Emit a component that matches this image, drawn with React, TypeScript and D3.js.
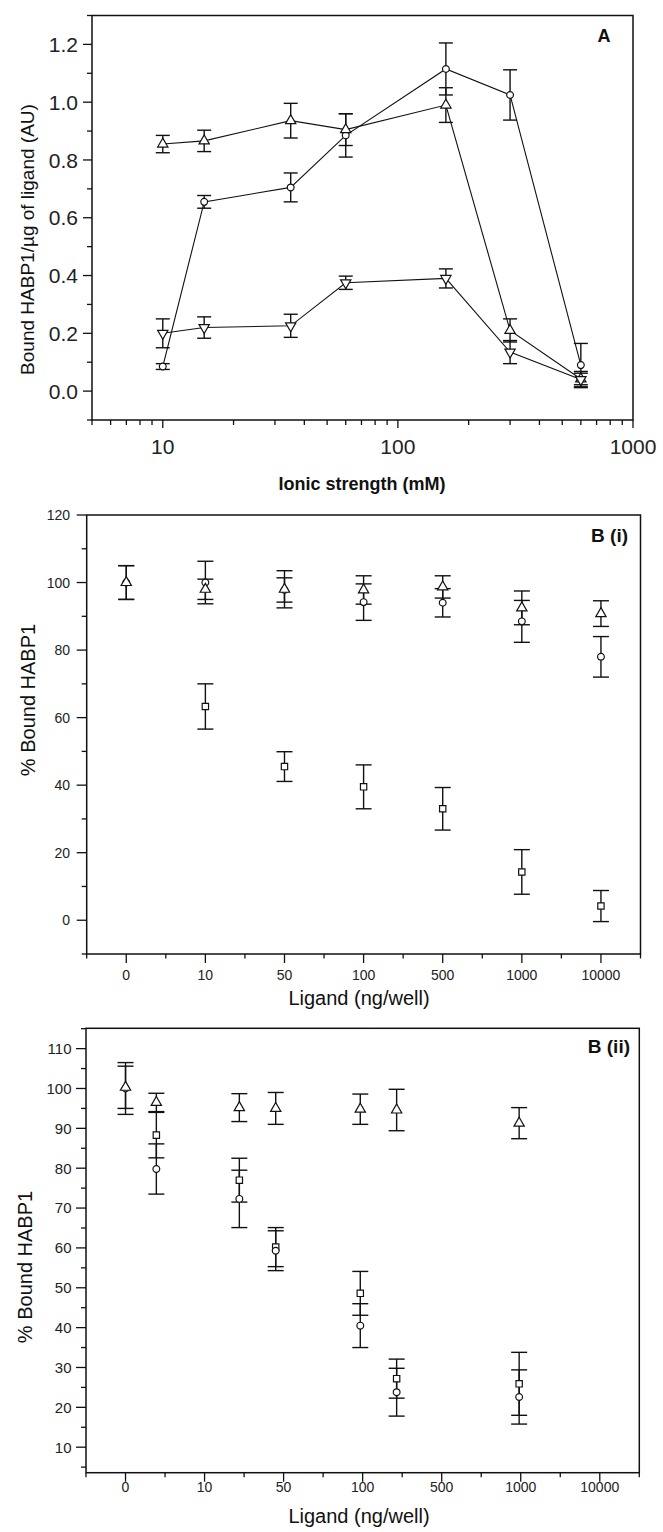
import React, { useEffect, useRef } from "react";
import * as d3 from "d3";

// ---- Panel A: ionic strength (mM), bound HABP1 / ug ligand (AU)
const ionicStrength = [10, 15, 35, 60, 160, 300, 600];
const aTriUp = [0.855, 0.866, 0.936, 0.905, 0.99, 0.21, 0.042];
const aTriUpErr = [0.03, 0.037, 0.06, 0.055, 0.06, 0.04, 0.02];
const aCircle = [0.085, 0.655, 0.705, 0.885, 1.115, 1.025, 0.09];
const aCircleErr = [0.01, 0.022, 0.05, 0.075, 0.09, 0.087, 0.075];
const aTriDown = [0.2, 0.22, 0.226, 0.375, 0.39, 0.135, 0.04];
const aTriDownErr = [0.05, 0.037, 0.04, 0.023, 0.033, 0.04, 0.028];
const aYTicks = [0, 0.2, 0.4, 0.6, 0.8, 1.0, 1.2];
const aXTicks = [10, 100, 1000];

// ---- Panel B: ligand (ng/well), % bound HABP1
const ligandLabels = ["0", "10", "50", "100", "500", "1000", "10000"];

// B (i)
const biPos = [0, 1, 2, 3, 4, 5, 6];
const biTriangle = [100, 98, 98, 97.8, 98.7, 92.5, 90.8];
const biTriangleErr = [5, 3, 5.5, 4.2, 3.3, 5, 3.8];
const biCircle = [100, 100, 97.8, 94.2, 94, 88.5, 78];
const biCircleErr = [5, 6.3, 3.6, 5.4, 4.2, 6.2, 6];
const biSquarePos = [1, 2, 3, 4, 5, 6];
const biSquare = [63.3, 45.5, 39.5, 33, 14.3, 4.2];
const biSquareErr = [6.7, 4.4, 6.5, 6.3, 6.6, 4.6];
const biYTicks = [0, 20, 40, 60, 80, 100, 120];

// B (ii)
const biiPos = [0, 0.39, 1.44, 1.9, 2.97, 3.43, 4.98];
const biiTriangle = [100.3, 96.5, 95.2, 95, 94.8, 94.6, 91.3];
const biiTriangleErr = [5.3, 2.3, 3.5, 4, 3.8, 5.2, 3.9];
const biiCircle = [100, 79.8, 72.3, 59.3, 40.5, 23.8, 22.6];
const biiCircleErr = [6.5, 6.3, 7.2, 5, 5.5, 6, 6.8];
const biiSquarePos = [0.39, 1.44, 1.9, 2.97, 3.43, 4.98];
const biiSquare = [88.3, 77, 60.2, 48.6, 27.2, 25.9];
const biiSquareErr = [5.7, 5.5, 4.9, 5.5, 4.9, 7.9];
const biiYTicks = [10, 20, 30, 40, 50, 60, 70, 80, 90, 100, 110];

const W = 663;
const H = 1532;
const FONT = "'Liberation Sans', Arial, Helvetica, sans-serif";
const INK = "#111";

const symbolPath = (kind, size) => {
  const type =
    kind === "circle" ? d3.symbolCircle : kind === "square" ? d3.symbolSquare : d3.symbolTriangle;
  return d3.symbol().type(type).size(size)();
};

function errorBars(g, xs, ys, es, x, y, cap) {
  const rows = xs.map((xv, i) => ({ x: x(xv), lo: y(ys[i] - es[i]), hi: y(ys[i] + es[i]) }));
  const eb = g.append("g").attr("stroke", INK).attr("stroke-width", 1.4).attr("fill", "none");
  rows.forEach((r) => {
    eb.append("line").attr("x1", r.x).attr("x2", r.x).attr("y1", r.lo).attr("y2", r.hi);
    eb.append("line").attr("x1", r.x - cap / 2).attr("x2", r.x + cap / 2).attr("y1", r.lo).attr("y2", r.lo);
    eb.append("line").attr("x1", r.x - cap / 2).attr("x2", r.x + cap / 2).attr("y1", r.hi).attr("y2", r.hi);
  });
}

function markers(g, xs, ys, x, y, kind) {
  const size = kind === "circle" ? 36 : kind === "square" ? 40 : 46;
  g.append("g")
    .selectAll("path")
    .data(xs.map((xv, i) => [xv, ys[i]]))
    .enter()
    .append("path")
    .attr("d", symbolPath(kind, size))
    .attr("transform", (d) => `translate(${x(d[0])},${y(d[1])})${kind === "down" ? " rotate(180)" : ""}`)
    .attr("fill", "#fff")
    .attr("stroke", INK)
    .attr("stroke-width", 1.2);
}

function frame(g, l, r, t, b) {
  g.append("rect")
    .attr("x", l)
    .attr("y", t)
    .attr("width", r - l)
    .attr("height", b - t)
    .attr("fill", "none")
    .attr("stroke", INK)
    .attr("stroke-width", 1.5);
}

function ticks(g, vals, scale, orient, base, len) {
  vals.forEach((v) => {
    const p = scale(v);
    if (orient === "left") {
      g.append("line").attr("x1", base - len).attr("x2", base).attr("y1", p).attr("y2", p);
    } else {
      g.append("line").attr("x1", p).attr("x2", p).attr("y1", base).attr("y2", base + len);
    }
  });
}

function drawPanelA(svg) {
  const L = 92, R = 633, T = 15.5, B = 420;
  const x = d3.scaleLog().domain([5, 1000]).range([L, R]);
  const y = d3.scaleLinear().domain([-0.1, 1.3]).range([B, T]);
  const g = svg.append("g");

  const tg = g.append("g").attr("stroke", INK).attr("stroke-width", 1.3);
  ticks(tg, aYTicks, y, "left", L, 9);
  ticks(tg, d3.range(-0.1, 1.31, 0.2), y, "left", L, 5);
  const minorX = [];
  [1, 10, 100].forEach((d) => d3.range(2, 10).forEach((k) => k * d >= 5 && minorX.push(k * d)));
  ticks(tg, aXTicks, x, "bottom", B, 8);
  ticks(tg, minorX, x, "bottom", B, 5);
  frame(g, L, R, T, B);

  g.selectAll("text.ya")
    .data(aYTicks)
    .enter()
    .append("text")
    .attr("x", 78)
    .attr("y", (d) => y(d))
    .attr("dy", "0.36em")
    .attr("text-anchor", "end")
    .attr("font-size", 21)
    .attr("font-family", FONT)
    .attr("fill", "#222")
    .text((d) => d3.format(".1f")(d));
  g.selectAll("text.xa")
    .data(aXTicks)
    .enter()
    .append("text")
    .attr("x", (d) => x(d))
    .attr("y", 454)
    .attr("text-anchor", "middle")
    .attr("font-size", 21)
    .attr("font-family", FONT)
    .attr("fill", "#222")
    .text((d) => d);

  const line = d3
    .line()
    .x((d) => x(d[0]))
    .y((d) => y(d[1]));
  [aTriUp, aCircle, aTriDown].forEach((s) => {
    g.append("path")
      .attr("d", line(ionicStrength.map((v, i) => [v, s[i]])))
      .attr("fill", "none")
      .attr("stroke", INK)
      .attr("stroke-width", 1.1);
  });
  errorBars(g, ionicStrength, aTriUp, aTriUpErr, x, y, 14);
  errorBars(g, ionicStrength, aCircle, aCircleErr, x, y, 14);
  errorBars(g, ionicStrength, aTriDown, aTriDownErr, x, y, 14);
  markers(g, ionicStrength, aCircle, x, y, "circle");
  markers(g, ionicStrength, aTriUp, x, y, "up");
  markers(g, ionicStrength, aTriDown, x, y, "down");

  g.append("text")
    .attr("transform", `translate(34,239.5) rotate(-90)`)
    .attr("text-anchor", "middle")
    .attr("font-size", 19)
    .attr("font-family", FONT)
    .attr("fill", INK)
    .text("Bound HABP1/\u00b5g of ligand (AU)");
  g.append("text")
    .attr("x", 362)
    .attr("y", 490)
    .attr("text-anchor", "middle")
    .attr("font-size", 18)
    .attr("font-weight", "bold")
    .attr("font-family", FONT)
    .attr("fill", INK)
    .text("Ionic strength (mM)");
  g.append("text")
    .attr("x", 604)
    .attr("y", 41.5)
    .attr("text-anchor", "middle")
    .attr("font-size", 18)
    .attr("font-weight", "bold")
    .attr("font-family", FONT)
    .attr("fill", INK)
    .text("A");
}

function drawPanelB(svg, p) {
  const { L, R, T, B } = p;
  const x = d3.scaleLinear().domain([-0.5, 6.5]).range([L, R]);
  const y = d3.scaleLinear().domain(p.yDomain).range([B, T]);
  const g = svg.append("g");

  const tg = g.append("g").attr("stroke", INK).attr("stroke-width", 1.3);
  ticks(tg, p.yTicks, y, "left", L, 10);
  ticks(tg, p.yMinor, y, "left", L, 5);
  ticks(tg, d3.range(0, 7), x, "bottom", B, 9);
  ticks(tg, d3.range(-0.5, 7, 1), x, "bottom", B, 4.5);
  frame(g, L, R, T, B);

  g.selectAll("text.yb")
    .data(p.yTicks)
    .enter()
    .append("text")
    .attr("x", p.yLabelX)
    .attr("y", (d) => y(d))
    .attr("dy", "0.36em")
    .attr("text-anchor", "end")
    .attr("font-size", p.tickFont)
    .attr("font-family", FONT)
    .attr("fill", "#222")
    .text((d) => d);
  g.selectAll("text.xb")
    .data(ligandLabels)
    .enter()
    .append("text")
    .attr("x", (d, i) => x(i))
    .attr("y", p.xLabelY)
    .attr("text-anchor", "middle")
    .attr("font-size", 14)
    .attr("font-family", FONT)
    .attr("fill", "#222")
    .text((d) => d);

  errorBars(g, p.triPos, p.tri, p.triErr, x, y, 16);
  errorBars(g, p.triPos, p.circ, p.circErr, x, y, 16);
  errorBars(g, p.sqPos, p.sq, p.sqErr, x, y, 16);
  markers(g, p.sqPos, p.sq, x, y, "square");
  markers(g, p.triPos, p.circ, x, y, "circle");
  markers(g, p.triPos, p.tri, x, y, "up");

  g.append("text")
    .attr("transform", `translate(${p.titleX},${p.titleY}) rotate(-90)`)
    .attr("text-anchor", "middle")
    .attr("font-size", 20)
    .attr("font-family", FONT)
    .attr("fill", INK)
    .text("% Bound HABP1");
  g.append("text")
    .attr("x", 359)
    .attr("y", p.xTitleY)
    .attr("text-anchor", "middle")
    .attr("font-size", 20)
    .attr("font-family", FONT)
    .attr("fill", INK)
    .text("Ligand (ng/well)");
  g.append("text")
    .attr("x", p.tagX)
    .attr("y", p.tagY)
    .attr("text-anchor", "end")
    .attr("font-size", 19)
    .attr("font-weight", "bold")
    .attr("font-family", FONT)
    .attr("fill", INK)
    .text(p.tag);
}

export default function App() {
  const svgRef = useRef(null);

  useEffect(() => {
    const svg = d3.select(svgRef.current);
    svg.selectAll("*").remove();
    svg.append("rect").attr("width", W).attr("height", H).attr("fill", "#fff");

    drawPanelA(svg);
    drawPanelB(svg, {
      L: 86.7, R: 640.5, T: 515, B: 954,
      yDomain: [-10, 120],
      yTicks: biYTicks,
      yMinor: d3.range(-10, 121, 20),
      yLabelX: 70, tickFont: 14, xLabelY: 980,
      triPos: biPos, tri: biTriangle, triErr: biTriangleErr,
      circ: biCircle, circErr: biCircleErr,
      sqPos: biSquarePos, sq: biSquare, sqErr: biSquareErr,
      titleX: 35, titleY: 700, xTitleY: 1005,
      tag: "B (i)", tagX: 628, tagY: 541.5,
    });
    drawPanelB(svg, {
      L: 86, R: 639.3, T: 1028.3, B: 1472.7,
      yDomain: [3.6, 115.1],
      yTicks: biiYTicks,
      yMinor: d3.range(5, 116, 10),
      yLabelX: 71.5, tickFont: 15, xLabelY: 1491.5,
      triPos: biiPos, tri: biiTriangle, triErr: biiTriangleErr,
      circ: biiCircle, circErr: biiCircleErr,
      sqPos: biiSquarePos, sq: biiSquare, sqErr: biiSquareErr,
      titleX: 32, titleY: 1267, xTitleY: 1523,
      tag: "B (ii)", tagX: 630, tagY: 1053,
    });
  }, []);

  return (
    <svg
      ref={svgRef}
      width={W}
      height={H}
      style={{ position: "absolute", left: 0, top: 0, display: "block" }}
    />
  );
}
